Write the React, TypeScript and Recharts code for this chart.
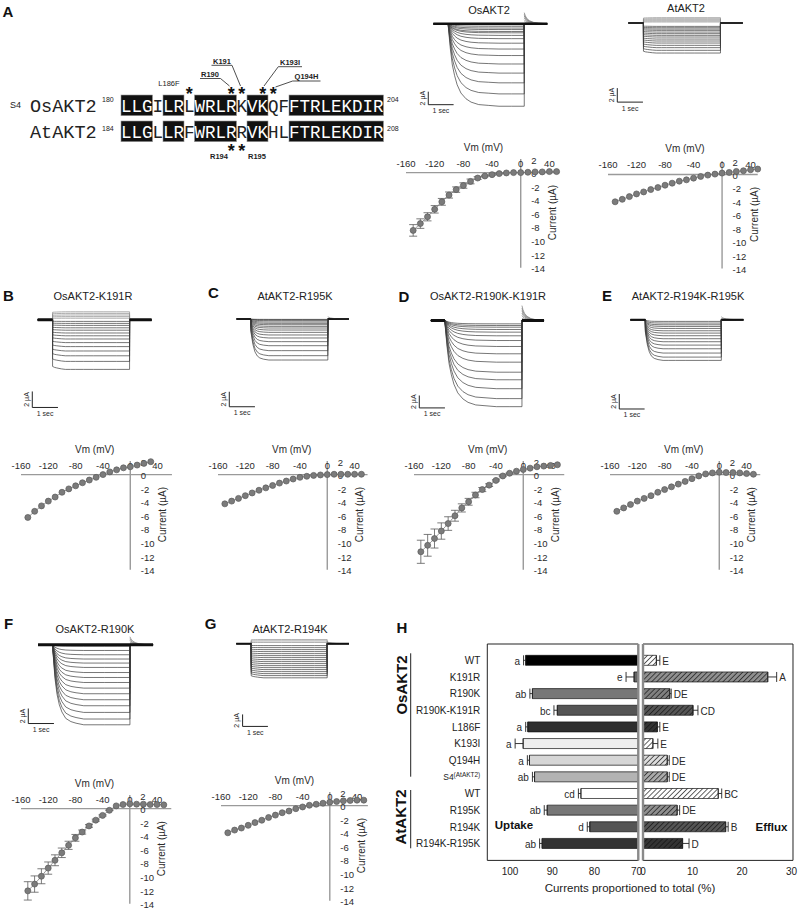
import React from 'react';
import {
  ComposedChart, LineChart, Line, XAxis, YAxis, ReferenceLine, ReferenceDot,
  ReferenceArea, ErrorBar, Bar, Cell,
} from 'recharts';

const FONT = '"Liberation Sans", Arial, Helvetica, sans-serif';
const MONO = '"Liberation Mono", "Courier New", monospace';

// ---------------- Sequence alignment (panel A) ----------------
const OS_SEQ = 'LLGILRLWRLRKVKQFFTRLEKDIR';
const AT_SEQ = 'LLGLLRFWRLRRVKHLFTRLEKDIR';
const BOXED_RANGES = [[0, 3], [4, 6], [7, 11], [12, 14], [16, 25]];
const OS_STAR_IDX = [6, 10, 11, 13, 14];
const AT_STAR_IDX = [10, 11];

// ---------------- I-V data ----------------
const IV_V = [-150, -140, -130, -120, -110, -100, -90, -80, -70, -60, -50, -40, -30, -20, -10, 0, 10, 20, 30, 40, 50];
const IV_X_TICKS = [-160, -120, -80, -40, 0, 40];
const IV_Y_TICKS = [2, 0, -2, -4, -6, -8, -10, -12, -14];

const A_OS_I = [-8.5, -7.5, -6.5, -5.4, -4.3, -3.3, -2.5, -1.9, -1.3, -0.8, -0.5, -0.3, -0.15, -0.05, 0, 0, 0.05, 0.1, 0.1, 0.15, 0.15];
const A_OS_E = [0.85, 0.7, 0.6, 0.55, 0.5, 0.45, 0.4, 0.4, 0.35, 0.2, 0.1, 0.1, 0.05, 0, 0, 0, 0, 0, 0, 0, 0];
const A_AT_I = [-4.07, -3.7, -3.3, -2.9, -2.6, -2.25, -1.95, -1.6, -1.3, -1.0, -0.8, -0.55, -0.3, -0.1, 0.05, 0.2, 0.3, 0.45, 0.55, 0.7, 0.8];
const B_V = [-150, -140, -130, -120, -110, -100, -90, -80, -70, -60, -50, -40, -30, -20, -10, 0, 10, 20, 30];
const B_I = [-6.3, -5.4, -4.6, -3.9, -3.3, -2.6, -2.1, -1.65, -1.2, -0.8, -0.4, 0, 0.4, 0.7, 1.0, 1.15, 1.4, 1.65, 1.9];
const C_I = [-4.3, -3.9, -3.5, -3.1, -2.7, -2.3, -1.95, -1.6, -1.25, -0.95, -0.65, -0.4, -0.25, -0.12, -0.05, 0, 0.05, 0.05, 0.05, 0.05, 0.05];
const D_I = [-11.35, -10.4, -9.4, -8.3, -7.2, -6.05, -4.9, -4.0, -3.0, -2.2, -1.55, -0.85, -0.2, 0.2, 0.5, 0.75, 0.95, 1.15, 1.25, 1.35, 1.45];
const D_E = [1.7, 1.6, 1.4, 1.2, 1.0, 0.8, 0.6, 0.5, 0.4, 0.3, 0.2, 0.1, 0.1, 0.05, 0, 0, 0, 0, 0, 0, 0];
const E_I = [-5.4, -4.9, -4.4, -3.9, -3.5, -3.1, -2.6, -2.2, -1.8, -1.4, -1.0, -0.6, -0.2, 0.1, 0.25, 0.35, 0.3, 0.3, 0.25, 0.15, 0.05];
const F_I = [-12.1, -11.1, -9.95, -8.75, -7.6, -6.5, -5.4, -4.3, -3.45, -2.55, -1.7, -1.0, -0.25, 0.4, 0.6, 0.7, 0.65, 0.65, 0.6, 0.6, 0.55];
const F_E = [1.35, 1.2, 1.1, 0.9, 0.8, 0.7, 0.6, 0.5, 0.3, 0.2, 0.15, 0.1, 0.05, 0, 0, 0, 0, 0, 0, 0, 0];
const G_I = [-4.0, -3.6, -3.3, -2.9, -2.5, -2.15, -1.75, -1.4, -1.05, -0.8, -0.45, -0.2, 0.05, 0.2, 0.35, 0.5, 0.6, 0.7, 0.75, 0.8, 0.8];

// ---------------- Current traces ----------------
const PULSE_T = [0, 0.08, 0.16, 0.25, 0.35, 0.5, 0.7, 0.9, 1.2, 1.6, 2.0, 2.5, 3.0];
const SHAPE_SLOW = [0.03, 0.3, 0.5, 0.63, 0.74, 0.84, 0.91, 0.95, 0.98, 0.99, 1, 1, 1];
const SHAPE_MED = [0.08, 0.42, 0.62, 0.75, 0.84, 0.92, 0.96, 0.98, 1, 1, 1, 1, 1];
const SHAPE_FAST = [0.3, 0.62, 0.8, 0.9, 0.95, 0.98, 1, 1, 1, 1, 1, 1, 1];
const SHAPE_FLAT = [0.94, 0.96, 0.97, 0.98, 0.99, 1, 1, 1, 1, 1, 1, 1, 1];
const POST_DT = [0, 0.04, 0.1, 0.2, 0.35, 0.55];
const TAIL_SHAPE = [1, 0.72, 0.48, 0.28, 0.13, 0.05];

const A_OS_SWEEPS = [-0.15, -0.4, -0.67, -0.9, -1.2, -1.4, -1.8, -2.3, -3.0, -3.9, -4.9, -6.2, -7.6, -9.1, -10.8, -12.7];
const A_OS_TAILS = [0.3, 0.6, 0.9, 1.2, 1.45, 1.7];
const A_AT_SWEEPS = [0.76, 0.6, 0.45, 0.3, 0.15, -0.48, -0.67, -0.86, -1.05, -1.29, -1.52, -1.76, -2.0, -2.29, -2.57, -2.86, -3.19, -3.52, -3.9, -4.29];
const B_SWEEPS = [1.0, 0.8, 0.6, 0.4, 0.2, -0.2, -0.45, -0.7, -1.0, -1.3, -1.65, -2.0, -2.4, -2.85, -3.35, -3.9, -4.5, -5.2, -6.2];
const C_SWEEPS = [-0.05, -0.1, -0.22, -0.4, -0.58, -0.76, -0.98, -1.2, -1.47, -1.78, -2.13, -2.53, -3.02, -3.56, -4.22, -4.89, -5.47];
const C_TAILS = [0.3];
const D_SWEEPS = [-0.54, -0.81, -1.08, -1.45, -1.88, -2.47, -3.23, -4.19, -5.37, -6.72, -8.34, -9.56, -11.0, -12.6, -13.9];
const D_TAILS = [0.4, 0.8, 1.2, 1.6, 2.0, 2.4];
const E_SWEEPS = [-0.22, -0.44, -0.67, -0.89, -1.16, -1.47, -1.78, -2.13, -2.53, -2.93, -3.38, -3.87, -4.44, -4.98, -5.42];
const E_TAILS = [0.2, 0.4];
const F_SWEEPS = [-0.2, -0.76, -1.33, -1.9, -2.44, -3.02, -3.7, -4.36, -5.03, -5.78, -6.53, -7.33, -8.13, -9.02, -9.9, -10.67];
const F_TAILS = [0.2, 0.4, 0.6, 0.8, 1.07];
const G_SWEEPS = [0.67, 0.45, 0.2, -0.33, -0.67, -1.0, -1.33, -1.67, -2.0, -2.33, -2.67, -3.0, -3.33, -3.67, -4.0, -4.33, -4.67, -5.0, -5.33, -5.7];
const G_TAILS = [0.15, 0.3];

// ---------------- Panel H ----------------
const H_NAMES = ['WT', 'K191R', 'R190K', 'R190K-K191R', 'L186F', 'K193I', 'Q194H', 'S4', 'WT', 'R195K', 'R194K', 'R194K-R195K'];
const H_UPTAKE = [96.3, 70.6, 94.7, 88.8, 95.8, 96.9, 95.4, 94.2, 83.2, 91.2, 81.1, 92.4];
const H_UPTAKE_ERR = [0.5, 1.9, 0.6, 0.8, 0.5, 1.9, 0.5, 0.5, 0.6, 0.7, 0.6, 0.6];
const H_UPTAKE_LETTERS = ['a', 'e', 'ab', 'bc', 'a', 'a', 'a', 'ab', 'cd', 'ab', 'd', 'ab'];
const H_EFFLUX = [2.7, 25.2, 5.4, 10.1, 2.9, 2.0, 4.9, 4.9, 15.2, 6.9, 16.7, 8.0];
const H_EFFLUX_ERR = [0.7, 1.8, 0.3, 1.0, 0.5, 1.0, 0.4, 0.4, 0.7, 0.5, 0.5, 1.3];
const H_EFFLUX_LETTERS = ['E', 'A', 'DE', 'CD', 'E', 'E', 'DE', 'DE', 'BC', 'DE', 'B', 'D'];
const H_UPTAKE_COLORS = ['#000000', '#666666', '#777777', '#555555', '#2e2e2e', '#eeeeee', '#d6d6d6', '#b3b3b3', '#ffffff', '#777777', '#555555', '#333333'];
const H_EFFLUX_COLORS = ['#ffffff', '#8f8f8f', '#808080', '#555555', '#333333', '#ffffff', '#dddddd', '#aaaaaa', '#ffffff', '#8f8f8f', '#555555', '#333333'];

// ---------------- helpers ----------------
type LabOpts = { anchor?: string; size?: number; weight?: string; rotate?: number; fill?: string; family?: string };
const lab = (text: React.ReactNode, dx: number, dy: number, o: LabOpts = {}) => (props: any) => {
  const vb = (props && props.viewBox) || {};
  const cx = (vb.x ?? 0) + (vb.width ?? 0) / 2 + dx;
  const cy = (vb.y ?? 0) + (vb.height ?? 0) / 2 + dy;
  return (
    <text
      x={cx}
      y={cy}
      textAnchor={o.anchor || 'middle'}
      dominantBaseline="central"
      fontSize={o.size || 9.5}
      fontWeight={o.weight || 'normal'}
      fill={o.fill || '#2a2a2a'}
      fontFamily={o.family || FONT}
      transform={o.rotate ? `rotate(${o.rotate} ${cx} ${cy})` : undefined}
    >
      {text}
    </text>
  );
};

type IVCfg = { x0: number; y0: number; kx: number; ky: number; xmax: number; v: number[]; i: number[]; e?: number[] };

function IVPlot({ c }: { c: IVCfg }) {
  const xmin = -160, ymin = -14, ymax = 2;
  const left = c.x0 + xmin * c.kx;
  const top = c.y0 - ymax * c.ky;
  const width = (c.xmax - xmin) * c.kx;
  const height = (ymax - ymin) * c.ky;
  const data = c.v.map((v, k) => ({ v, i: c.i[k], e: c.e ? c.e[k] : 0 }));
  return (
    <div style={{ position: 'absolute', left, top, width, height }}>
      <ComposedChart width={width} height={height} data={data} margin={{ top: 0, right: 0, bottom: 0, left: 0 }}>
        <XAxis type="number" dataKey="v" domain={[xmin, c.xmax]} hide />
        <YAxis type="number" domain={[ymin, ymax]} hide />
        <ReferenceLine segment={[{ x: xmin, y: 0 }, { x: c.xmax, y: 0 }]} stroke="#9a9a9a" strokeWidth={1.4} ifOverflow="visible" />
        <ReferenceLine segment={[{ x: 0, y: ymax }, { x: 0, y: ymin }]} stroke="#9a9a9a" strokeWidth={1.4} ifOverflow="visible" />
        {IV_X_TICKS.map((t) => (
          <ReferenceDot key={'xt' + t} x={t} y={0} r={0} fill="none" stroke="none" ifOverflow="visible" label={lab(String(t), 0, -9.5)} />
        ))}
        {IV_Y_TICKS.map((t) => (
          <ReferenceDot key={'yt' + t} x={0} y={t} r={0} fill="none" stroke="none" ifOverflow="visible" label={lab(String(t), 10.5, 1, { anchor: 'start' })} />
        ))}
        <ReferenceDot x={-52} y={0} r={0} fill="none" stroke="none" ifOverflow="visible" label={lab('Vm (mV)', 0, -25.5, { size: 10 })} />
        <ReferenceDot x={0} y={0} r={0} fill="none" stroke="none" ifOverflow="visible" label={lab('Current (\u00b5A)', 32, 40, { size: 10, rotate: -90 })} />
        <Line
          dataKey="i"
          stroke="#8c8c8c"
          strokeWidth={0.9}
          isAnimationActive={false}
          activeDot={false}
          dot={{ r: 3, fill: '#7b7b7b', stroke: '#5a5a5a', strokeWidth: 0.7 }}
        >
          {c.e ? <ErrorBar dataKey="e" width={4} stroke="#5a5a5a" strokeWidth={0.8} direction="y" /> : null}
        </Line>
      </ComposedChart>
    </div>
  );
}

type TraceCfg = {
  ox: number; oy: number; kx: number; ky: number; sweeps: number[]; shape: number[]; tails: number[];
  holdW: number; holdAcross?: boolean; bar: [number, number]; tPre: number; tPost: number;
};

function TracePlot({ c }: { c: TraceCfg }) {
  const zeros = c.sweeps.map(() => 0);
  const nulls = c.tails.map(() => null);
  const mk = (t: number, sv: (number | null)[], hold: number | null, tv: (number | null)[]) => {
    const r: any = { t, hold };
    sv.forEach((v, k) => (r['s' + k] = v));
    tv.forEach((v, k) => (r['q' + k] = v));
    return r;
  };
  const rows: any[] = [];
  rows.push(mk(c.tPre, zeros, 0, nulls));
  rows.push(mk(0, zeros, 0, nulls));
  PULSE_T.forEach((t, k) => rows.push(mk(t, c.sweeps.map((s) => s * c.shape[k]), c.holdAcross ? 0 : null, nulls)));
  POST_DT.forEach((dt, k) => rows.push(mk(3 + dt, zeros, 0, c.tails.map((a) => a * TAIL_SHAPE[k]))));
  rows.push(mk(c.tPost, zeros, 0, c.tails.map(() => 0)));

  const tMin = Math.min(c.tPre, c.bar[0]) - 0.05;
  const tMax = c.tPost;
  const yMin = Math.min(...c.sweeps, c.bar[1]) - 0.1;
  const yMax = Math.max(0, ...c.sweeps, ...c.tails) + 0.1;
  const left = c.ox + tMin * c.kx;
  const top = c.oy - yMax * c.ky;
  const width = (tMax - tMin) * c.kx;
  const height = (yMax - yMin) * c.ky;
  const [bx, by] = c.bar;
  return (
    <div style={{ position: 'absolute', left, top, width, height }}>
      <LineChart width={width} height={height} data={rows} margin={{ top: 0, right: 0, bottom: 0, left: 0 }}>
        <XAxis type="number" dataKey="t" domain={[tMin, tMax]} hide />
        <YAxis type="number" domain={[yMin, yMax]} hide />
        {c.sweeps.map((s, k) => (
          <Line key={'s' + k} dataKey={'s' + k} stroke={s > 0 ? '#8a8a8a' : '#3c3c3c'} strokeWidth={0.7} dot={false} activeDot={false} isAnimationActive={false} />
        ))}
        {c.tails.map((a, k) => (
          <Line key={'q' + k} dataKey={'q' + k} stroke="#777" strokeWidth={0.7} dot={false} activeDot={false} isAnimationActive={false} />
        ))}
        <Line dataKey="hold" stroke="#111" strokeWidth={c.holdW} dot={false} activeDot={false} isAnimationActive={false} />
        <ReferenceLine segment={[{ x: bx, y: by + 2 }, { x: bx, y: by }]} stroke="#222" strokeWidth={1} ifOverflow="visible" />
        <ReferenceLine segment={[{ x: bx, y: by }, { x: bx + 1, y: by }]} stroke="#222" strokeWidth={1} ifOverflow="visible" />
        <ReferenceDot x={bx} y={by + 1} r={0} fill="none" stroke="none" ifOverflow="visible" label={lab('2 \u00b5A', -6, 0, { size: 7, rotate: -90 })} />
        <ReferenceDot x={bx + 0.5} y={by} r={0} fill="none" stroke="none" ifOverflow="visible" label={lab('1 sec', 0, 6, { size: 7 })} />
      </LineChart>
    </div>
  );
}

const CatTick = (props: any) => {
  const { x, y, payload } = props;
  const name = H_NAMES[payload.value - 1];
  if (name === 'S4') {
    return (
      <text x={x} y={y} textAnchor="end" dominantBaseline="central" fontFamily={FONT} fill="#222">
        <tspan fontSize={8.5}>S4</tspan>
        <tspan fontSize={6.5} dy={-3.5}>(AtAKT2)</tspan>
      </text>
    );
  }
  return (
    <text x={x} y={y} textAnchor="end" dominantBaseline="central" fontSize={10} fontFamily={FONT} fill="#222">
      {name}
    </text>
  );
};

const H_ROWS = H_NAMES.map((n, k) => ({
  pos: k + 1,
  u: H_UPTAKE[k],
  ue: [0, H_UPTAKE_ERR[k]],
  f: H_EFFLUX[k],
  fe: [0, H_EFFLUX_ERR[k]],
}));
const H_POS = H_NAMES.map((n, k) => k + 1);

function PanelH() {
  const plotTop = 644.3;
  const plotH = 216.4;
  const axH = 30;
  return (
    <>
      <div style={{ position: 'absolute', left: 380, top: plotTop }}>
        <ComposedChart layout="vertical" width={258.3} height={plotH + axH} data={H_ROWS} margin={{ top: 0, right: 0, bottom: 0, left: 0 }}>
          <XAxis type="number" domain={[69.6, 105.4]} reversed ticks={[100, 90, 80, 70]} interval={0} tickLine={false} axisLine={false} tickSize={0} tickMargin={7.5} height={axH} tick={{ fontSize: 10, fill: '#222', fontFamily: FONT }} />
          <YAxis type="number" dataKey="pos" domain={[0, 13]} ticks={H_POS} interval={0} tickLine={false} axisLine={false} tickSize={0} tickMargin={7} width={107.3} tick={CatTick} />
          <ReferenceArea x1={69.6} x2={105.4} y1={0} y2={13} fill="none" stroke="#222" strokeWidth={1} ifOverflow="visible" />
          <Bar dataKey="u" barSize={10} isAnimationActive={false} stroke="#111" strokeWidth={0.7}>
            {H_ROWS.map((r, k) => (
              <Cell key={'uc' + k} fill={H_UPTAKE_COLORS[k]} />
            ))}
            <ErrorBar dataKey="ue" direction="x" width={5} stroke="#222" strokeWidth={0.9} />
          </Bar>
          <ReferenceLine x={69.6} stroke="#8a8a8a" strokeWidth={2.4} ifOverflow="visible" />
          {H_ROWS.map((r, k) => (
            <ReferenceDot key={'ul' + k} x={H_UPTAKE[k] + H_UPTAKE_ERR[k]} y={r.pos} r={0} fill="none" stroke="none" ifOverflow="visible" label={lab(H_UPTAKE_LETTERS[k], -3.5, 0.5, { anchor: 'end', size: 10 })} />
          ))}
        </ComposedChart>
      </div>
      <div style={{ position: 'absolute', left: 643.3, top: plotTop }}>
        <ComposedChart layout="vertical" width={150} height={plotH + axH} data={H_ROWS} margin={{ top: 0, right: 0, bottom: 0, left: 0 }}>
          <XAxis type="number" domain={[0, 30.3]} ticks={[0, 10, 20, 30]} interval={0} tickLine={false} axisLine={false} tickSize={0} tickMargin={7.5} height={axH} tick={{ fontSize: 10, fill: '#222', fontFamily: FONT }} />
          <YAxis type="number" dataKey="pos" domain={[0, 13]} hide />
          <ReferenceArea x1={0} x2={30.3} y1={0} y2={13} fill="none" stroke="#222" strokeWidth={1} ifOverflow="visible" />
          <Bar dataKey="f" barSize={10} isAnimationActive={false} stroke="#111" strokeWidth={0.7}>
            {H_ROWS.map((r, k) => (
              <Cell key={'fc' + k} fill={`url(#hatch${k})`} />
            ))}
            <ErrorBar dataKey="fe" direction="x" width={5} stroke="#222" strokeWidth={0.9} />
          </Bar>
          <ReferenceLine x={0} stroke="#8a8a8a" strokeWidth={2.4} ifOverflow="visible" />
          {H_ROWS.map((r, k) => (
            <ReferenceDot key={'fl' + k} x={H_EFFLUX[k] + H_EFFLUX_ERR[k]} y={r.pos} r={0} fill="none" stroke="none" ifOverflow="visible" label={lab(H_EFFLUX_LETTERS[k], 2.5, 0.5, { anchor: 'start', size: 10 })} />
          ))}
        </ComposedChart>
      </div>
    </>
  );
}

function Overlay() {
  const X0 = 121, P = 10.5;
  const rx = (k: number) => X0 + (k + 0.5) * P;
  const seqRow = (seq: string, boxY: number, baseY: number, key: string) => (
    <g key={key}>
      {BOXED_RANGES.map(([s, e], k) => (
        <rect key={key + 'b' + k} x={X0 + s * P} y={boxY} width={(e - s) * P} height={20.7} fill="#111" stroke="#999" strokeWidth={0.6} />
      ))}
      {seq.split('').map((ch, k) => {
        const boxed = BOXED_RANGES.some(([s, e]) => k >= s && k < e);
        return (
          <text key={key + 'c' + k} x={rx(k)} y={baseY} textAnchor="middle" fontFamily={MONO} fontSize={17.5} fill={boxed ? '#fff' : '#222'}>
            {ch}
          </text>
        );
      })}
    </g>
  );
  const letter = (t: string, x: number, y: number) => (
    <text key={'L' + t} x={x} y={y} textAnchor="middle" dominantBaseline="central" fontFamily={FONT} fontWeight="bold" fontSize={15} fill="#111">{t}</text>
  );
  const title = (t: string, x: number, y: number) => (
    <text key={'T' + t + x} x={x} y={y} textAnchor="middle" dominantBaseline="central" fontFamily={FONT} fontSize={11} fill="#222">{t}</text>
  );
  const small = { fontFamily: FONT, fontSize: 7.5, fill: '#222' } as const;
  return (
    <svg width={800} height={909} style={{ position: 'absolute', left: 0, top: 0 }}>
      <defs>
        {H_EFFLUX_COLORS.map((col, k) => (
          <pattern key={'p' + k} id={`hatch${k}`} width={3.6} height={3.6} patternUnits="userSpaceOnUse" patternTransform="rotate(45)">
            <rect width={3.6} height={3.6} fill={col} />
            <line x1={0} y1={0} x2={0} y2={3.6} stroke="#111" strokeWidth={1.3} />
          </pattern>
        ))}
      </defs>
      {letter('A', 8, 11)}
      {letter('B', 8.5, 295)}
      {letter('C', 213.5, 292)}
      {letter('D', 404, 296)}
      {letter('E', 607, 295)}
      {letter('F', 8.5, 623)}
      {letter('G', 210.5, 623)}
      {letter('H', 402, 627)}

      {title('OsAKT2', 489, 10)}
      {title('AtAKT2', 686, 8)}
      {title('OsAKT2-K191R', 93, 296)}
      {title('AtAKT2-R195K', 295, 296)}
      {title('OsAKT2-R190K-K191R', 488, 296)}
      {title('AtAKT2-R194K-R195K', 688, 296)}
      {title('OsAKT2-R190K', 95, 629)}
      {title('AtAKT2-R194K', 290, 629)}

      {/* Alignment */}
      <text x={10} y={108} fontFamily={FONT} fontSize={9} fill="#222">S4</text>
      <text x={30} y={111.7} fontFamily={MONO} fontSize={18.5} fill="#222">OsAKT2</text>
      <text x={30} y={137.5} fontFamily={MONO} fontSize={18.5} fill="#222">AtAKT2</text>
      <text x={102} y={102} {...small} fontSize={7}>180</text>
      <text x={102} y={131} {...small} fontSize={7}>184</text>
      <text x={387} y={102} {...small} fontSize={7}>204</text>
      <text x={387} y={131} {...small} fontSize={7}>208</text>
      {seqRow(OS_SEQ, 95, 111.5, 'os')}
      {seqRow(AT_SEQ, 121, 137.5, 'at')}
      {OS_STAR_IDX.map((k) => (
        <text key={'so' + k} x={rx(k)} y={99.5} textAnchor="middle" fontFamily={FONT} fontWeight="bold" fontSize={18} fill="#111">*</text>
      ))}
      {AT_STAR_IDX.map((k) => (
        <text key={'sa' + k} x={rx(k)} y={156.5} textAnchor="middle" fontFamily={FONT} fontWeight="bold" fontSize={18} fill="#111">*</text>
      ))}
      <text x={169} y={83} textAnchor="middle" dominantBaseline="central" {...small}>L186F</text>
      <text x={210} y={74.5} textAnchor="middle" dominantBaseline="central" {...small} fontWeight="bold">R190</text>
      <text x={222} y={61} textAnchor="middle" dominantBaseline="central" {...small} fontWeight="bold">K191</text>
      <text x={290} y={62.5} textAnchor="middle" dominantBaseline="central" {...small} fontWeight="bold">K193I</text>
      <text x={306.5} y={76.5} textAnchor="middle" dominantBaseline="central" {...small} fontWeight="bold">Q194H</text>
      <text x={219} y={156} textAnchor="middle" dominantBaseline="central" {...small} fontWeight="bold">R194</text>
      <text x={257} y={156} textAnchor="middle" dominantBaseline="central" {...small} fontWeight="bold">R195</text>
      <g stroke="#222" strokeWidth={0.8} fill="none">
        <line x1={200} y1={78.5} x2={220.5} y2={78.5} />
        <line x1={220.5} y1={78.5} x2={229.5} y2={86} />
        <line x1={211.5} y1={65.3} x2={232} y2={65.3} />
        <line x1={232} y1={65.3} x2={240.5} y2={86} />
        <line x1={278.3} y1={66.7} x2={302} y2={66.7} />
        <line x1={278.3} y1={66.7} x2={264} y2={86} />
        <line x1={292.7} y1={81} x2={320.5} y2={81} />
        <line x1={292.7} y1={81} x2={275.5} y2={87} />
      </g>

      {/* Panel H annotations */}
      <text x={401.5} y={685} textAnchor="middle" dominantBaseline="central" fontFamily={FONT} fontWeight="bold" fontSize={15} fill="#111" transform="rotate(-90 401.5 685)">OsAKT2</text>
      <text x={400} y={817} textAnchor="middle" dominantBaseline="central" fontFamily={FONT} fontWeight="bold" fontSize={15} fill="#111" transform="rotate(-90 400 817)">AtAKT2</text>
      <line x1={410.7} y1={653.3} x2={410.7} y2={776.7} stroke="#222" strokeWidth={1} />
      <line x1={410.7} y1={790} x2={410.7} y2={848.3} stroke="#222" strokeWidth={1} />
      <text x={514} y={825} textAnchor="middle" dominantBaseline="central" fontFamily={FONT} fontWeight="bold" fontSize={11.5} fill="#111">Uptake</text>
      <text x={771.5} y={826.5} textAnchor="middle" dominantBaseline="central" fontFamily={FONT} fontWeight="bold" fontSize={11.5} fill="#111">Efflux</text>
      <text x={630} y={888.3} textAnchor="middle" dominantBaseline="central" fontFamily={FONT} fontSize={11.5} fill="#222">Currents proportioned to total (%)</text>
    </svg>
  );
}

const TRACES: TraceCfg[] = [
  { ox: 448, oy: 24, kx: 25.33, ky: 6.5, sweeps: A_OS_SWEEPS, shape: SHAPE_SLOW, tails: A_OS_TAILS, holdW: 2.5, holdAcross: true, bar: [-0.79, -12.46], tPre: -0.59, tPost: 3.91 },
  { ox: 643, oy: 22.7, kx: 25.67, ky: 7, sweeps: A_AT_SWEEPS, shape: SHAPE_FLAT, tails: [], holdW: 1.2, bar: [-1.02, -11.3], tPre: -0.58, tPost: 3.86 },
  { ox: 53, oy: 320, kx: 25.67, ky: 8, sweeps: B_SWEEPS, shape: SHAPE_FLAT, tails: [], holdW: 3, bar: [-0.79, -10.96], tPre: -0.58, tPost: 3.86 },
  { ox: 251, oy: 319, kx: 25.67, ky: 7.5, sweeps: C_SWEEPS, shape: SHAPE_FAST, tails: C_TAILS, holdW: 1.5, bar: [-0.84, -11.7], tPre: -0.55, tPost: 3.82 },
  { ox: 445, oy: 320, kx: 25.67, ky: 6.2, sweeps: D_SWEEPS, shape: SHAPE_SLOW, tails: D_TAILS, holdW: 3, bar: [-1.0, -14.1], tPre: -0.55, tPost: 3.86 },
  { ox: 645, oy: 320, kx: 25.33, ky: 7.5, sweeps: E_SWEEPS, shape: SHAPE_FAST, tails: E_TAILS, holdW: 2, bar: [-1.03, -11.9], tPre: -0.59, tPost: 3.87 },
  { ox: 53, oy: 645, kx: 25.67, ky: 7.5, sweeps: F_SWEEPS, shape: SHAPE_MED, tails: F_TAILS, holdW: 3, holdAcross: true, bar: [-0.96, -10.5], tPre: -0.58, tPost: 3.9 },
  { ox: 251, oy: 644, kx: 25.33, ky: 6, sweeps: G_SWEEPS, shape: SHAPE_FLAT, tails: G_TAILS, holdW: 1.8, bar: [-0.34, -13.8], tPre: -0.59, tPost: 3.86 },
];

const IVS: IVCfg[] = [
  { x0: 520.3, y0: 172.2, kx: 0.717, ky: 6.8, xmax: 54, v: IV_V, i: A_OS_I, e: A_OS_E },
  { x0: 721.7, y0: 174.2, kx: 0.713, ky: 6.72, xmax: 50, v: IV_V, i: A_AT_I },
  { x0: 130, y0: 474.5, kx: 0.683, ky: 6.8, xmax: 61, v: B_V, i: B_I },
  { x0: 327.7, y0: 474.5, kx: 0.683, ky: 6.8, xmax: 59, v: IV_V, i: C_I },
  { x0: 523.3, y0: 474.5, kx: 0.683, ky: 6.8, xmax: 60, v: IV_V, i: D_I, e: D_E },
  { x0: 719, y0: 474.5, kx: 0.683, ky: 6.8, xmax: 60, v: IV_V, i: E_I },
  { x0: 130, y0: 808.3, kx: 0.68, ky: 6.8, xmax: 61, v: IV_V, i: F_I, e: F_E },
  { x0: 330, y0: 805.7, kx: 0.68, ky: 6.8, xmax: 56, v: IV_V, i: G_I },
];

export default function App() {
  return (
    <div style={{ position: 'absolute', left: 0, top: 0, width: 800, height: 909, background: '#fff', fontFamily: FONT, overflow: 'hidden' }}>
      <style>{'.recharts-surface{overflow:visible}.recharts-wrapper{overflow:visible}'}</style>
      <Overlay />
      {TRACES.map((c, k) => (
        <TracePlot key={'tr' + k} c={c} />
      ))}
      {IVS.map((c, k) => (
        <IVPlot key={'iv' + k} c={c} />
      ))}
      <PanelH />
    </div>
  );
}
